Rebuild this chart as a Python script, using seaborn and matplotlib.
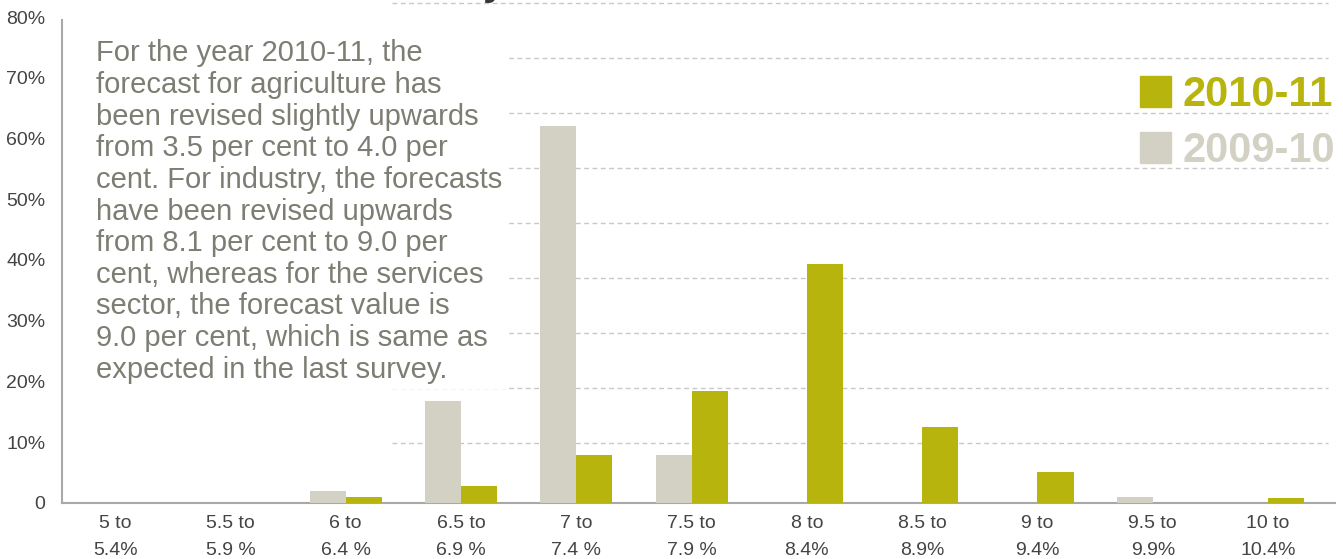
import numpy as np
import pandas as pd
import matplotlib
matplotlib.use('Agg')
import matplotlib.pyplot as plt
import matplotlib.patches as mpatches
import seaborn as sns

# Distribution of GDP growth forecasts (share of respondents, %)
ranges = ['5 to\n5.4%', '5.5 to\n5.9 %', '6 to\n6.4 %', '6.5 to\n6.9 %', '7 to\n7.4 %',
          '7.5 to\n7.9 %', '8 to\n8.4%', '8.5 to\n8.9%', '9 to\n9.4%', '9.5 to\n9.9%',
          '10 to\n10.4%']
share_2009_10 = [0, 0, 2.0, 16.8, 62.1, 7.9, 0, 0, 0, 1.0, 0]
share_2010_11 = [0, 0, 1.0, 2.8, 7.9, 18.4, 39.4, 12.4, 5.1, 0, 0.8]
years = ['2009-10', '2010-11']
ytick_vals = [0, 10, 20, 30, 40, 50, 60, 70, 80]
ytick_labels = ['0', '10%', '20%', '30%', '40%', '50%', '60%', '70%', '80%']

note = ("For the year 2010-11, the\n"
        "forecast for agriculture has\n"
        "been revised slightly upwards\n"
        "from 3.5 per cent to 4.0 per\n"
        "cent. For industry, the forecasts\n"
        "have been revised upwards\n"
        "from 8.1 per cent to 9.0 per\n"
        "cent, whereas for the services\n"
        "sector, the forecast value is\n"
        "9.0 per cent, which is same as\n"
        "expected in the last survey.")

df = pd.DataFrame({
    'range': ranges * 2,
    'year': ['2009-10'] * len(ranges) + ['2010-11'] * len(ranges),
    'share': share_2009_10 + share_2010_11,
})

colors = {'2010-11': '#b8b40e', '2009-10': '#d3d1c3'}
grey_txt = '#444444'

sns.set_style('white')
plt.rcParams['font.family'] = ['Liberation Sans', 'DejaVu Sans']

fig = plt.figure(figsize=(13.43, 5.59), dpi=100)
ax = fig.add_axes([0.0462, 0.1007, 0.9478, 0.897])

sns.barplot(data=df, x='range', y='share', hue='year', hue_order=years,
            palette=colors, width=0.625, gap=0, ax=ax, legend=False,
            saturation=1, linewidth=0, zorder=3)
# no sliver for empty classes
for bar in ax.patches:
    if bar.get_height() == 0:
        bar.set_visible(False)

ax.set_xlim(-0.46, 10.58)
ax.set_ylim(0, 82.6)

# dashed gridlines (spaced a little tighter than the labels, as in the original)
grid_y = np.linspace(9.9, 82.3, 9)
ax.hlines(grid_y, 2.4, 10.52, colors='#c8c8c8', linestyles=(0, (3.5, 2.5)),
          linewidth=1.0, zorder=1)

ax.set_yticks(ytick_vals)
ax.set_yticklabels(ytick_labels)
ax.set_xticks(range(len(ranges)))
ax.set_xticklabels(ranges, linespacing=1.75)
ax.set_xticks(np.arange(0.5, len(ranges) - 1, 1), minor=True)
ax.tick_params(axis='y', length=0, pad=12, labelsize=14, labelcolor=grey_txt)
ax.tick_params(axis='x', which='major', length=0, pad=9, labelsize=14, labelcolor=grey_txt)
ax.tick_params(axis='x', which='minor', length=11, width=1, color='#aaaaaa',
               direction='out')
ax.set_xlabel('')
ax.set_ylabel('')

for side in ['top', 'right']:
    ax.spines[side].set_visible(False)
for side in ['left', 'bottom']:
    ax.spines[side].set_color('#a8a8a8')
    ax.spines[side].set_linewidth(1.5)
ax.spines['left'].set_bounds(0, 79.5)

# explanatory note
ax.text(0.027, 0.924, note, transform=ax.transAxes, ha='left', va='top',
        fontsize=21, color='#7e7d73', linespacing=1.165, zorder=4,
        bbox=dict(facecolor='white', edgecolor='none', pad=4))

# legend
handles = [mpatches.Patch(color=colors[y], label=y) for y in ['2010-11', '2009-10']]
leg = ax.legend(handles=handles, loc='upper left', bbox_to_anchor=(1140 / 1343, 1 - 75 / 559),
                bbox_transform=fig.transFigure, frameon=False, borderpad=0,
                borderaxespad=0, handlelength=0.75, handleheight=0.75,
                handletextpad=0.27, labelspacing=0.38,
                prop={'size': 30, 'weight': 'bold'},
                labelcolor=[colors['2010-11'], colors['2009-10']])

# tail of the cut-off heading above the chart
fig.text(483 / 1343, 1 + 6 / 559, 'y', fontsize=30, fontweight='bold',
         color='#3a3530', ha='left', va='baseline')

fig.savefig('out.png', dpi=100)
